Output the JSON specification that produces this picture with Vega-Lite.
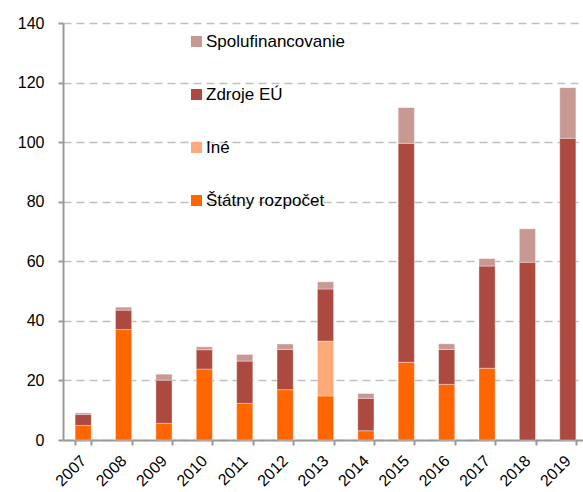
{
  "$schema": "https://vega.github.io/schema/vega-lite/v6.json",
  "width": 525,
  "height": 417,
  "autosize": "none",
  "padding": {"left": 63, "top": 23, "right": 0, "bottom": 52},
  "background": "white",
  "config": {
    "view": {"stroke": null},
    "font": "Liberation Sans"
  },
  "datasets": {
    "poradie": [
      {"zdroj": "Štátny rozpočet", "poradie": 1},
      {"zdroj": "Iné", "poradie": 2},
      {"zdroj": "Zdroje EÚ", "poradie": 3},
      {"zdroj": "Spolufinancovanie", "poradie": 4}
    ],
    "vydavky": [
      {"rok": "2007", "zdroj": "Štátny rozpočet", "hodnota": 4.9},
      {"rok": "2007", "zdroj": "Zdroje EÚ", "hodnota": 3.7},
      {"rok": "2007", "zdroj": "Spolufinancovanie", "hodnota": 0.5},
      {"rok": "2008", "zdroj": "Štátny rozpočet", "hodnota": 37.1},
      {"rok": "2008", "zdroj": "Zdroje EÚ", "hodnota": 6.5},
      {"rok": "2008", "zdroj": "Spolufinancovanie", "hodnota": 1.0},
      {"rok": "2009", "zdroj": "Štátny rozpočet", "hodnota": 5.6},
      {"rok": "2009", "zdroj": "Zdroje EÚ", "hodnota": 14.5},
      {"rok": "2009", "zdroj": "Spolufinancovanie", "hodnota": 2.0},
      {"rok": "2010", "zdroj": "Štátny rozpočet", "hodnota": 23.8},
      {"rok": "2010", "zdroj": "Zdroje EÚ", "hodnota": 6.5},
      {"rok": "2010", "zdroj": "Spolufinancovanie", "hodnota": 1.0},
      {"rok": "2011", "zdroj": "Štátny rozpočet", "hodnota": 12.3},
      {"rok": "2011", "zdroj": "Zdroje EÚ", "hodnota": 14.2},
      {"rok": "2011", "zdroj": "Spolufinancovanie", "hodnota": 2.2},
      {"rok": "2012", "zdroj": "Štátny rozpočet", "hodnota": 16.9},
      {"rok": "2012", "zdroj": "Zdroje EÚ", "hodnota": 13.5},
      {"rok": "2012", "zdroj": "Spolufinancovanie", "hodnota": 1.8},
      {"rok": "2013", "zdroj": "Štátny rozpočet", "hodnota": 14.8},
      {"rok": "2013", "zdroj": "Iné", "hodnota": 18.4},
      {"rok": "2013", "zdroj": "Zdroje EÚ", "hodnota": 17.5},
      {"rok": "2013", "zdroj": "Spolufinancovanie", "hodnota": 2.4},
      {"rok": "2014", "zdroj": "Štátny rozpočet", "hodnota": 3.1},
      {"rok": "2014", "zdroj": "Zdroje EÚ", "hodnota": 10.9},
      {"rok": "2014", "zdroj": "Spolufinancovanie", "hodnota": 1.6},
      {"rok": "2015", "zdroj": "Štátny rozpočet", "hodnota": 26.1},
      {"rok": "2015", "zdroj": "Zdroje EÚ", "hodnota": 73.5},
      {"rok": "2015", "zdroj": "Spolufinancovanie", "hodnota": 12.0},
      {"rok": "2016", "zdroj": "Štátny rozpočet", "hodnota": 18.7},
      {"rok": "2016", "zdroj": "Zdroje EÚ", "hodnota": 11.7},
      {"rok": "2016", "zdroj": "Spolufinancovanie", "hodnota": 1.9},
      {"rok": "2017", "zdroj": "Štátny rozpočet", "hodnota": 24.1},
      {"rok": "2017", "zdroj": "Zdroje EÚ", "hodnota": 34.3},
      {"rok": "2017", "zdroj": "Spolufinancovanie", "hodnota": 2.5},
      {"rok": "2018", "zdroj": "Zdroje EÚ", "hodnota": 59.7},
      {"rok": "2018", "zdroj": "Spolufinancovanie", "hodnota": 11.2},
      {"rok": "2019", "zdroj": "Zdroje EÚ", "hodnota": 101.3},
      {"rok": "2019", "zdroj": "Spolufinancovanie", "hodnota": 17.0}
    ]
  },
  "data": {"name": "vydavky"},
  "transform": [
    {
      "lookup": "zdroj",
      "from": {"data": {"name": "poradie"}, "key": "zdroj", "fields": ["poradie"]}
    }
  ],
  "mark": {"type": "bar", "stroke": "#ffffff", "strokeWidth": 0.6, "strokeOpacity": 0.6},
  "encoding": {
    "x": {
      "field": "rok",
      "type": "ordinal",
      "scale": {"paddingInner": 0.6, "paddingOuter": 0.3},
      "axis": {
        "title": null,
        "labelAngle": -45,
        "labelAlign": "right",
        "labelBaseline": "middle",
        "labelFontSize": 16,
        "labelColor": "#000000",
        "labelPadding": 13,
        "tickBand": "extent",
        "domainColor": "#999999",
        "domainWidth": 2,
        "tickColor": "#999999",
        "tickWidth": 2,
        "tickSize": 5,
        "grid": false
      }
    },
    "y": {
      "field": "hodnota",
      "type": "quantitative",
      "stack": "zero",
      "scale": {"domain": [0, 140], "nice": false},
      "axis": {
        "title": null,
        "values": [0, 20, 40, 60, 80, 100, 120, 140],
        "labelFontSize": 16,
        "labelColor": "#000000",
        "labelPadding": 14,
        "domainColor": "#999999",
        "domainWidth": 2,
        "tickColor": "#999999",
        "tickWidth": 2,
        "tickSize": 5,
        "grid": true,
        "gridColor": "#c0c0c0",
        "gridWidth": 1.5,
        "gridDash": [8, 5]
      }
    },
    "order": {"field": "poradie", "type": "quantitative", "sort": "ascending"},
    "color": {
      "field": "zdroj",
      "type": "nominal",
      "scale": {
        "domain": ["Spolufinancovanie", "Zdroje EÚ", "Iné", "Štátny rozpočet"],
        "range": ["#c89893", "#ad4a40", "#fcaa78", "#ff6600"]
      },
      "legend": {
        "title": null,
        "orient": "none",
        "legendX": 125,
        "legendY": 10,
        "symbolType": "square",
        "symbolSize": 121,
        "symbolStrokeWidth": 0,
        "labelFontSize": 17,
        "labelColor": "#000000",
        "labelOffset": 1,
        "rowPadding": 35
      }
    }
  }
}
